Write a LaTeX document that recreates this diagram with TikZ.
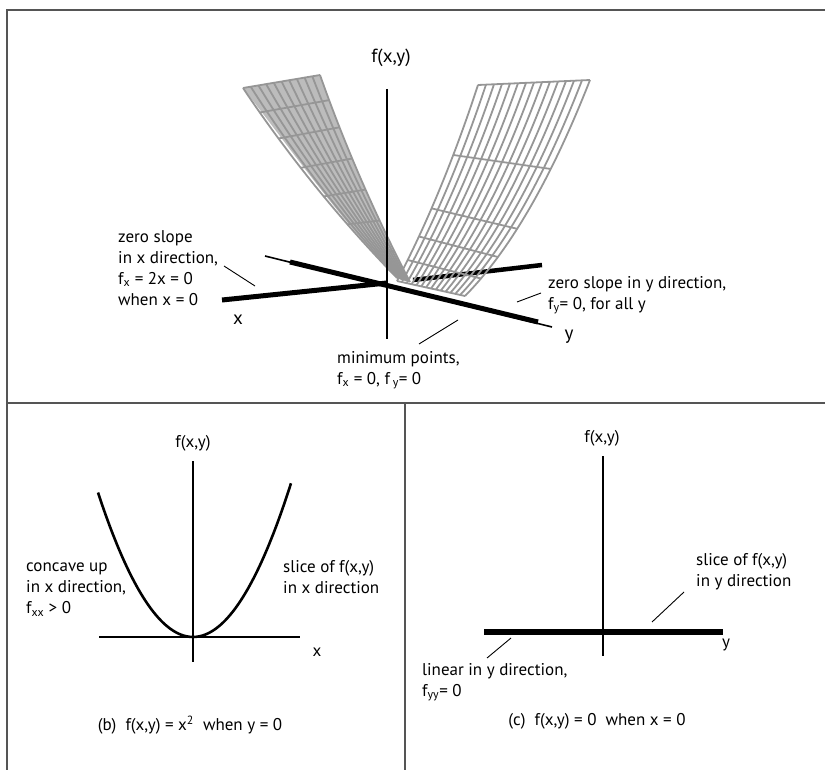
\documentclass[tikz,border=0pt]{standalone}
\usepackage{fontspec}
\setmainfont{PT Sans}
\definecolor{framegray}{RGB}{85,85,85}
\definecolor{meshgray}{RGB}{150,150,150}
\definecolor{sheetfill}{RGB}{188,188,188}
\begin{document}
\begin{tikzpicture}[x=1pt,y=-1pt,
  lbl/.style={font=\fontsize{17}{21}\selectfont, inner sep=0pt, align=left, anchor=north west},
  captxt/.style={font=\fontsize{17}{21}\selectfont, inner sep=0pt, anchor=center},
  axlbl/.style={font=\fontsize{19}{21}\selectfont, inner sep=0pt, anchor=center},
  framel/.style={draw=framegray, line width=1.3},
  mesh/.style={draw=meshgray, line width=1.8},
  thinaxis/.style={draw=black, line width=1.6},
  thickaxis/.style={draw=black, line width=5},
  leader/.style={draw=black, line width=0.9}]
\useasboundingbox (0,0) rectangle (825,770);

% frame
\draw[framel] (7,770) -- (7,10) -- (825,10);
\draw[framel] (7,403) -- (825,403);
\draw[framel] (405,403) -- (405,770);

% ---------- top panel ----------
% back part of x axis
\coordinate (xb1) at (413,280);
\coordinate (xb2) at (542,265);
\draw[thickaxis, line width=4.5] (xb1) -- (xb2);

% right sheet (mesh)
\foreach \i in {0,...,14}{
  \pgfmathsetmacro\v{\i/14}
  \pgfmathsetmacro\bx{397+(465-397)*\v}\pgfmathsetmacro\by{281+(296-281)*\v}
  \pgfmathsetmacro\cx{442+(532-442)*\v}\pgfmathsetmacro\cy{195+(228-195)*\v}
  \pgfmathsetmacro\tx{478+(590-478)*\v}\pgfmathsetmacro\ty{85+(80-85)*\v}
  \draw[mesh] (\bx,\by) .. controls ({(\bx+2*\cx)/3},{(\by+2*\cy)/3}) and ({(\tx+2*\cx)/3},{(\ty+2*\cy)/3}) .. (\tx,\ty);
}
\foreach \t in {0,0.12,0.25,0.4,0.67,1}{
  \pgfmathsetmacro\qa{(1-\t)*(1-\t)}\pgfmathsetmacro\qb{2*\t*(1-\t)}\pgfmathsetmacro\qc{\t*\t}
  \draw[mesh] ({\qa*397+\qb*442+\qc*478},{\qa*281+\qb*195+\qc*85}) -- ({\qa*465+\qb*532+\qc*590},{\qa*296+\qb*228+\qc*80});
}

% left sheet (filled mesh)
\fill[sheetfill] (397,278) .. controls (340.33,220) and (296.33,156) .. (243,88)
  -- (320,75) .. controls (344.67,145) and (374.67,213.33) .. (410,282) -- cycle;
\foreach \i in {0,...,10}{
  \pgfmathsetmacro\v{\i/10}
  \pgfmathsetmacro\bx{397+(410-397)*\v}\pgfmathsetmacro\by{278+(282-278)*\v}
  \pgfmathsetmacro\cx{312+(357-312)*\v}\pgfmathsetmacro\cy{191+(180-191)*\v}
  \pgfmathsetmacro\tx{243+(320-243)*\v}\pgfmathsetmacro\ty{88+(75-88)*\v}
  \draw[mesh] (\bx,\by) .. controls ({(\bx+2*\cx)/3},{(\by+2*\cy)/3}) and ({(\tx+2*\cx)/3},{(\ty+2*\cy)/3}) .. (\tx,\ty);
}
\foreach \t in {0.15,0.3,0.45,0.6,0.75,0.88,1}{
  \pgfmathsetmacro\qa{(1-\t)*(1-\t)}\pgfmathsetmacro\qb{2*\t*(1-\t)}\pgfmathsetmacro\qc{\t*\t}
  \draw[mesh] ({\qa*397+\qb*312+\qc*243},{\qa*278+\qb*191+\qc*88}) -- ({\qa*410+\qb*357+\qc*320},{\qa*282+\qb*180+\qc*75});
}

% vertical axis
\coordinate (zt) at (387,89);
\coordinate (zb) at (387,339);
\draw[thinaxis, line width=2] (zt) -- (zb);
% y axis
\coordinate (ya) at (265,256);
\coordinate (yb) at (552,327);
\coordinate (ya2) at (290,262);
\coordinate (yb2) at (538,322);
\draw[thinaxis] (ya) -- (yb);
\draw[thickaxis] (ya2) -- (yb2);
% front x axis
\coordinate (xf) at (222,300);
\coordinate (o) at (387,283);
\draw[thickaxis] (xf) -- (o);

\node[captxt, font=\fontsize{19}{21}\selectfont] (fa) at (391,58) {f(x,y)};
\node[axlbl] (xl) at (238,320) {x};
\node[axlbl] (yl) at (569,337) {y};

\node[lbl] (t1) at (118,230) {zero slope\\in x direction,\\f\textsubscript{x} = 2x = 0\\when x = 0};
\node[lbl] (t2) at (548,276) {zero slope in y direction,\\f\textsubscript{y}= 0, for all y};
\node[lbl] (t3) at (337,351) {minimum points,\\f\textsubscript{x} = 0, f\,\textsubscript{y}= 0};

\coordinate (l1a) at (224,266); \coordinate (l1b) at (255,286);
\coordinate (l2a) at (517,302); \coordinate (l2b) at (541,293);
\coordinate (l3a) at (419,344); \coordinate (l3b) at (458,320);
\draw[leader] (l1a) -- (l1b);
\draw[leader] (l2a) -- (l2b);
\draw[leader] (l3a) -- (l3b);

% ---------- panel (b) ----------
\coordinate (bzt) at (193,461); \coordinate (bzb) at (193,662);
\coordinate (bxl) at (99,637); \coordinate (bxr) at (300,637);
\draw[thinaxis] (bzt) -- (bzb);
\draw[thinaxis] (bxl) -- (bxr);
\draw[black, line width=2.6] plot[smooth, samples=60, domain=-95:98] ({193+\x},{637-0.016*\x*\x});
\node[captxt] (fb) at (193,443) {f(x,y)};
\node[captxt] (bx) at (317,652) {x};
\node[lbl] (b1) at (26,563) {concave up\\in x direction,\\f\textsubscript{xx} > 0};
\node[lbl] (b2) at (283,560) {slice of f(x,y)\\in x direction};
\node[captxt] (bc) at (190,725) {(b)\ \ f(x,y) = x\textsuperscript{2}\ \ when y = 0};

% ---------- panel (c) ----------
\coordinate (czt) at (603,456); \coordinate (czb) at (603,656);
\coordinate (cyl) at (484,632); \coordinate (cyr) at (723,632);
\draw[thinaxis] (czt) -- (czb);
\draw[black, line width=6] (cyl) -- (cyr);
\node[captxt] (fc) at (602,438) {f(x,y)};
\node[captxt] (cy) at (726,645) {y};
\node[lbl] (c1) at (696,553) {slice of f(x,y)\\in y direction};
\node[lbl] (c2) at (422,663) {linear in y direction,\\f\textsubscript{yy}= 0};
\node[captxt] (cc) at (597,721) {(c)\ \ f(x,y) = 0\ \ when x = 0};
\coordinate (l4a) at (684,592); \coordinate (l4b) at (652,622);
\coordinate (l5a) at (511,638); \coordinate (l5b) at (487,658);
\draw[leader] (l4a) -- (l4b);
\draw[leader] (l5a) -- (l5b);
\end{tikzpicture}
\end{document}
